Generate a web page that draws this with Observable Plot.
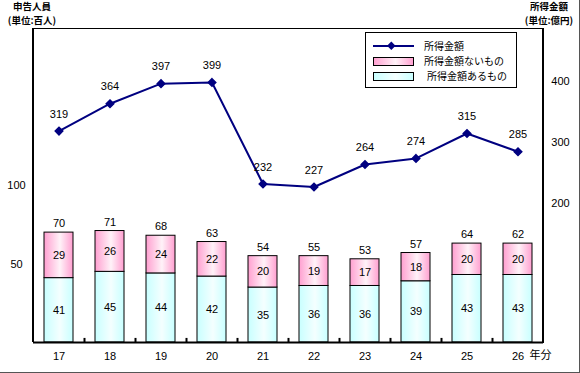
<!DOCTYPE html>
<html>
<head>
<meta charset="utf-8">
<script src="https://cdn.jsdelivr.net/npm/d3@7"></script>
<script src="https://cdn.jsdelivr.net/npm/@observablehq/plot@0.6"></script>
<style>
  html, body { margin: 0; padding: 0; background: #fff; }
  #wrap { position: relative; width: 580px; height: 373px; box-sizing: border-box;
          border-right: 1px solid #555; border-bottom: 1px solid #555; overflow: hidden;
          font-family: "Liberation Sans", "Noto Sans CJK JP", sans-serif; }
  .ttl { position: absolute; font-family: "Noto Sans CJK JP", sans-serif; font-size: 9.5px;
         font-weight: bold; line-height: 11px; height: 11px; color: #000; white-space: nowrap; text-align: center; }
  #legend { position: absolute; left: 365px; top: 32px; width: 150px; height: 54px;
            border: 1px solid #000; background: #fff; font-family: "Noto Sans CJK JP", sans-serif;
            font-size: 10px; }
  #legend .row { position: absolute; left: 0; height: 14px; display: flex; align-items: center; }
  #legend .row span { position: absolute; white-space: nowrap; line-height: 14px; }
</style>
</head>
<body>
<div id="wrap">
  <div id="chart"></div>
  <div class="ttl" style="left:2px; top:1px; width:60px;">申告人員</div>
  <div class="ttl" style="left:2px; top:15px; width:60px;">(単位:百人)</div>
  <div class="ttl" style="left:519px; top:1px; width:60px;">所得金額</div>
  <div class="ttl" style="left:519px; top:15px; width:60px;">(単位:億円)</div>
  <div id="legend"></div>
</div>
<script>
// ---- data ----
const years = ["17", "18", "19", "20", "21", "22", "23", "24", "25", "26"];
const withIncome = [41, 45, 44, 42, 35, 36, 36, 39, 43, 43];      // 所得金額あるもの (百人)
const withoutIncome = [29, 26, 24, 22, 20, 19, 17, 18, 20, 20];   // 所得金額ないもの (百人)
const totals = [70, 71, 68, 63, 54, 55, 53, 57, 64, 62];          // 申告人員 計 (百人)
const income = [319, 364, 397, 399, 232, 227, 264, 274, 315, 285]; // 所得金額 (億円)
const leftTicks = [50, 100];
const rightTicks = [200, 300, 400];
const seriesNames = ["所得金額", "所得金額ないもの", "所得金額あるもの"];

// right axis domain mapped onto the left domain [0, 200]
const leftDomain = [0, 200];
const rightDomain = [-28.7, 487.7];
const toL = v => (v - rightDomain[0]) / (rightDomain[1] - rightDomain[0]) * (leftDomain[1] - leftDomain[0]) + leftDomain[0];
const fromL = v => (v - leftDomain[0]) / (leftDomain[1] - leftDomain[0]) * (rightDomain[1] - rightDomain[0]) + rightDomain[0];

const rows = years.map((y, i) => ({
  year: y, a: withIncome[i], b: withoutIncome[i], total: totals[i], inc: income[i]
}));

const NAVY = "#000080";
const numFont = "Liberation Sans, Arial, sans-serif";

const chart = Plot.plot({
  width: 579, height: 372,
  marginLeft: 33, marginRight: 36, marginTop: 28, marginBottom: 30,
  style: { fontFamily: numFont, fontSize: "11px", color: "#000", background: "transparent" },
  x: { type: "band", domain: years, paddingInner: 0.43, paddingOuter: 0.215, axis: null },
  y: { domain: leftDomain, axis: null },
  marks: [
    Plot.barY(rows, { x: "year", y1: 0, y2: "a", fill: "url(#gCyan)", stroke: "#000", strokeWidth: 1 }),
    Plot.barY(rows, { x: "year", y1: "a", y2: d => d.a + d.b, fill: "url(#gPink)", stroke: "#000", strokeWidth: 1 }),
    Plot.text(rows, { x: "year", y: d => d.a / 2, text: d => String(d.a), fontSize: 11, fill: "#000" }),
    Plot.text(rows, { x: "year", y: d => d.a + d.b / 2, text: d => String(d.b), fontSize: 11, fill: "#000" }),
    Plot.text(rows, { x: "year", y: d => d.a + d.b, text: d => String(d.total), dy: -9, fontSize: 11, fill: "#000" }),
    Plot.line(rows, { x: "year", y: d => toL(d.inc), stroke: NAVY, strokeWidth: 2 }),
    Plot.dot(rows, { x: "year", y: d => toL(d.inc), symbol: "diamond2", r: 3.4, fill: NAVY, stroke: NAVY }),
    Plot.text(rows, { x: "year", y: d => toL(d.inc), text: d => String(d.inc), dy: -17, fontSize: 11, fill: "#000" }),
    // small tick marks between categories on the bottom axis
    Plot.ruleX(rows.slice(0, -1), { x: "year", y1: 0, y2: 2.6, dx: 25.5, stroke: "#000", strokeWidth: 2 }),
    Plot.axisX({ tickSize: 0, tickPadding: 10, fontSize: 11, label: null }),
    Plot.axisY({ ticks: leftTicks, tickSize: 0, tickPadding: 17, textAnchor: "middle", fontSize: 11, label: null }),
    Plot.axisY({ anchor: "right", ticks: rightTicks.map(toL), tickFormat: v => String(Math.round(fromL(v))),
                 tickSize: 0, tickPadding: 17, textAnchor: "middle", fontSize: 11, label: null }),
    Plot.frame({ stroke: "#000", strokeWidth: 1 }),
    Plot.ruleY([0], { stroke: "#000", strokeWidth: 2 }),
    Plot.text(["年分"], { frameAnchor: "bottom-right", text: d => d, dx: 8, dy: 16,
                         fontFamily: "Noto Sans CJK JP, sans-serif", fontSize: 11, fill: "#000" })
  ]
});

// gradients for bars
const defs = d3.select(chart).insert("defs", ":first-child");
function grad(id, stops) {
  const g = defs.append("linearGradient").attr("id", id).attr("x1", "0").attr("x2", "1").attr("y1", "0").attr("y2", "0");
  stops.forEach(([o, c]) => g.append("stop").attr("offset", o).attr("stop-color", c));
}
grad("gCyan", [["0%", "#c8ffff"], ["55%", "#f4ffff"], ["100%", "#c8ffff"]]);
grad("gPink", [["0%", "#ff9fd0"], ["55%", "#fff2f8"], ["100%", "#ff9fd0"]]);

// thicker left & right frame edges, derived from the scales' ranges
const xs = chart.scale("x"), ys = chart.scale("y");
const xr = xs.range, yr = ys.range;
const svgSel = d3.select(chart);
[Math.min(...xr), Math.max(...xr)].forEach(xv => {
  svgSel.append("line").attr("x1", xv).attr("x2", xv).attr("y1", Math.min(...yr)).attr("y2", Math.max(...yr))
    .attr("stroke", "#000").attr("stroke-width", 2);
});
document.getElementById("chart").appendChild(chart);

// legend
const lg = document.getElementById("legend");
const defsL = `<defs>
<linearGradient id="lgPink" x1="0" x2="1"><stop offset="0%" stop-color="#ff9fd0"/><stop offset="55%" stop-color="#fff2f8"/><stop offset="100%" stop-color="#ff9fd0"/></linearGradient>
<linearGradient id="lgCyan" x1="0" x2="1"><stop offset="0%" stop-color="#c8ffff"/><stop offset="55%" stop-color="#f4ffff"/><stop offset="100%" stop-color="#c8ffff"/></linearGradient></defs>`;
lg.innerHTML = `
<div class="row" style="top:6px;"><svg width="60" height="14" style="position:absolute;left:6px;">${defsL}
  <line x1="1" x2="42" y1="7" y2="7" stroke="${NAVY}" stroke-width="2"/>
  <rect x="17" y="3" width="6" height="6" fill="${NAVY}" transform="rotate(45 20 6) translate(0,1)"/></svg>
  <span style="left:58px;">${seriesNames[0]}</span></div>
<div class="row" style="top:21px;"><svg width="60" height="14" style="position:absolute;left:6px;">
  <rect x="1.5" y="3.5" width="40" height="8" fill="url(#lgPink)" stroke="#000"/></svg>
  <span style="left:58px;">${seriesNames[1]}</span></div>
<div class="row" style="top:36px;"><svg width="60" height="14" style="position:absolute;left:6px;">
  <rect x="1.5" y="3.5" width="40" height="8" fill="url(#lgCyan)" stroke="#000"/></svg>
  <span style="left:61px;">${seriesNames[2]}</span></div>`;
</script>
</body>
</html>
